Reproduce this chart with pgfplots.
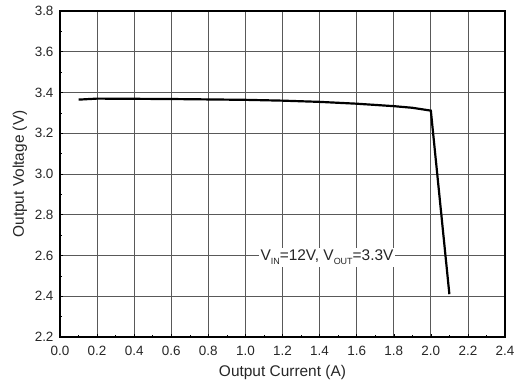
\documentclass[border=0pt]{standalone}
\usepackage{fontspec}
\setmainfont{Liberation Sans}
\usepackage{pgfplots}
\pgfplotsset{compat=1.18}
\newcommand{\sub}[1]{\raisebox{-4bp}{\fontsize{9}{10}\selectfont #1}}
\begin{document}
\begin{tikzpicture}
\useasboundingbox (-60bp,-53bp) rectangle (454bp,337bp);
\begin{axis}[
  at={(0,0)}, anchor=south west,
  scale only axis,
  width=445bp, height=326bp,
  xmin=0, xmax=2.4, ymin=2.2, ymax=3.8,
  xtick={0,0.2,...,2.4}, ytick={2.2,2.4,...,3.8},
  minor x tick num=1, minor y tick num=1,
  xticklabel style={yshift=-5.5bp, /pgf/number format/.cd,fixed,fixed zerofill,precision=1},
  yticklabel style={xshift=-3bp, /pgf/number format/.cd,fixed,fixed zerofill,precision=1},
  /pgf/number format/assume math mode=true,
  tick label style={font=\fontsize{13.5}{15}\selectfont, text=black!85},
  label style={font=\fontsize{15.5}{18}\selectfont, text=black!85},
  xlabel={Output Current (A)}, ylabel={Output Voltage (V)},
  xlabel style={at={([yshift=-36bp]axis description cs:0.5,0)}, anchor=center},
  ylabel style={at={([xshift=-40bp]axis description cs:0,0.5)}, anchor=center},
  grid=major,
  major grid style={black!65, line width=0.8pt},
  axis line style={black, line width=1.3pt},
  tick pos=left,
  major tick length=3pt, minor tick length=2pt,
  tick style={black, line width=0.5pt},
]
\addplot[black, line width=2.2pt] coordinates {
(0.1,3.365) (0.2,3.370) (0.4,3.369) (0.6,3.368) (0.8,3.366) (1.0,3.364) (1.2,3.360) (1.4,3.354) (1.6,3.345) (1.8,3.333) (1.9,3.325) (2.0,3.311) (2.1,2.41)
};
\node[fill=white, inner sep=2pt, font=\fontsize{15.5}{18}\selectfont, text=black!85] at (axis cs:1.44,2.59) {V\sub{IN}=12V, V\sub{OUT}=3.3V};
\end{axis}
\end{tikzpicture}
\end{document}
